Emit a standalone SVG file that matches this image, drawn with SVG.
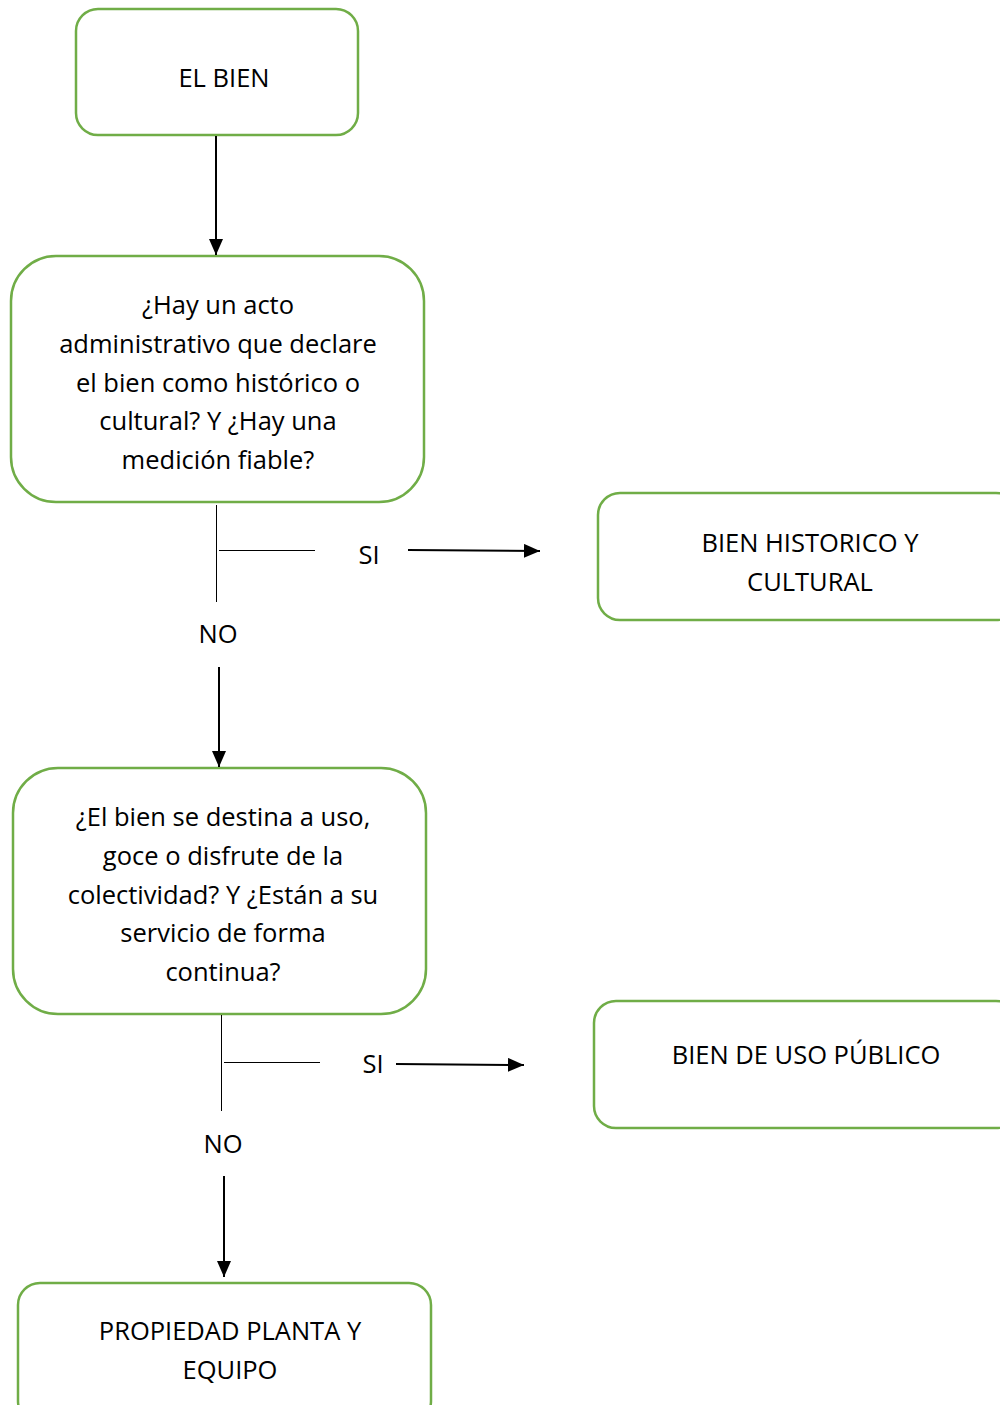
<svg xmlns="http://www.w3.org/2000/svg" width="1000" height="1405" viewBox="0 0 1000 1405">
<style>
.box{fill:#fff;stroke:#70AD47;stroke-width:2.5}
.t{font-family:"Open Sans","Liberation Sans",sans-serif;font-size:25.5px;fill:#000;text-anchor:middle;dominant-baseline:central}
.c{stroke:#000;stroke-width:2;fill:none}
.thin{stroke:#000;stroke-width:1;fill:none}
</style>
<defs>
<marker id="ah" markerWidth="16" markerHeight="14" refX="10" refY="5" orient="auto" markerUnits="userSpaceOnUse" viewBox="0 0 10 10" preserveAspectRatio="none">
<path d="M0,0 L10,5 L0,10 z" fill="#000"/>
</marker>
</defs>
<rect width="1000" height="1405" fill="#fff"/>
<g id="n1"><rect class="box" x="76" y="9" width="282" height="126" rx="22"/><text class="t" x="224" y="76.5">EL BIEN</text></g>
<g id="n2"><rect class="box" x="11" y="256" width="413" height="246" rx="45"/>
<text class="t" x="218" y="303.5">¿Hay un acto</text>
<text class="t" x="218" y="342.5">administrativo que declare</text>
<text class="t" x="218" y="381.5">el bien como histórico o</text>
<text class="t" x="218" y="419.5">cultural? Y ¿Hay una</text>
<text class="t" x="218" y="458.5">medición fiable?</text></g>
<g id="n3"><rect class="box" x="598" y="493" width="420" height="127" rx="22"/>
<text class="t" x="810" y="541.5">BIEN HISTORICO Y</text>
<text class="t" x="810" y="580.5">CULTURAL</text></g>
<g id="n4"><rect class="box" x="13" y="768" width="413" height="246" rx="45"/>
<text class="t" x="223" y="815.5">¿El bien se destina a uso,</text>
<text class="t" x="223" y="854.5">goce o disfrute de la</text>
<text class="t" x="223" y="893.5">colectividad? Y ¿Están a su</text>
<text class="t" x="223" y="931.5">servicio de forma</text>
<text class="t" x="223" y="970.5">continua?</text></g>
<g id="n5"><rect class="box" x="594" y="1001" width="424" height="127" rx="22"/>
<text class="t" x="806" y="1053.5">BIEN DE USO PÚBLICO</text></g>
<g id="n6"><rect class="box" x="18" y="1283" width="413" height="140" rx="22"/>
<text class="t" x="230" y="1329.5">PROPIEDAD PLANTA Y</text>
<text class="t" x="230" y="1368.5">EQUIPO</text></g>
<g id="connectors">
<line class="c" x1="216" y1="136" x2="216" y2="255" marker-end="url(#ah)"/>
<line class="thin" x1="216.5" y1="505" x2="216.5" y2="602"/>
<line class="thin" x1="219" y1="550.5" x2="315" y2="550.5"/>
<text class="t" x="369" y="553.5">SI</text>
<line class="c" x1="408" y1="550" x2="540" y2="551" marker-end="url(#ah)"/>
<text class="t" x="218" y="632.5">NO</text>
<line class="c" x1="219" y1="667" x2="219" y2="767" marker-end="url(#ah)"/>
<line class="thin" x1="221.5" y1="1015" x2="221.5" y2="1111"/>
<line class="thin" x1="224" y1="1062.5" x2="320" y2="1062.5"/>
<text class="t" x="373" y="1062.5">SI</text>
<line class="c" x1="396" y1="1064" x2="524" y2="1065" marker-end="url(#ah)"/>
<text class="t" x="223" y="1142.5">NO</text>
<line class="c" x1="224" y1="1176" x2="224" y2="1277" marker-end="url(#ah)"/>
</g>
</svg>
